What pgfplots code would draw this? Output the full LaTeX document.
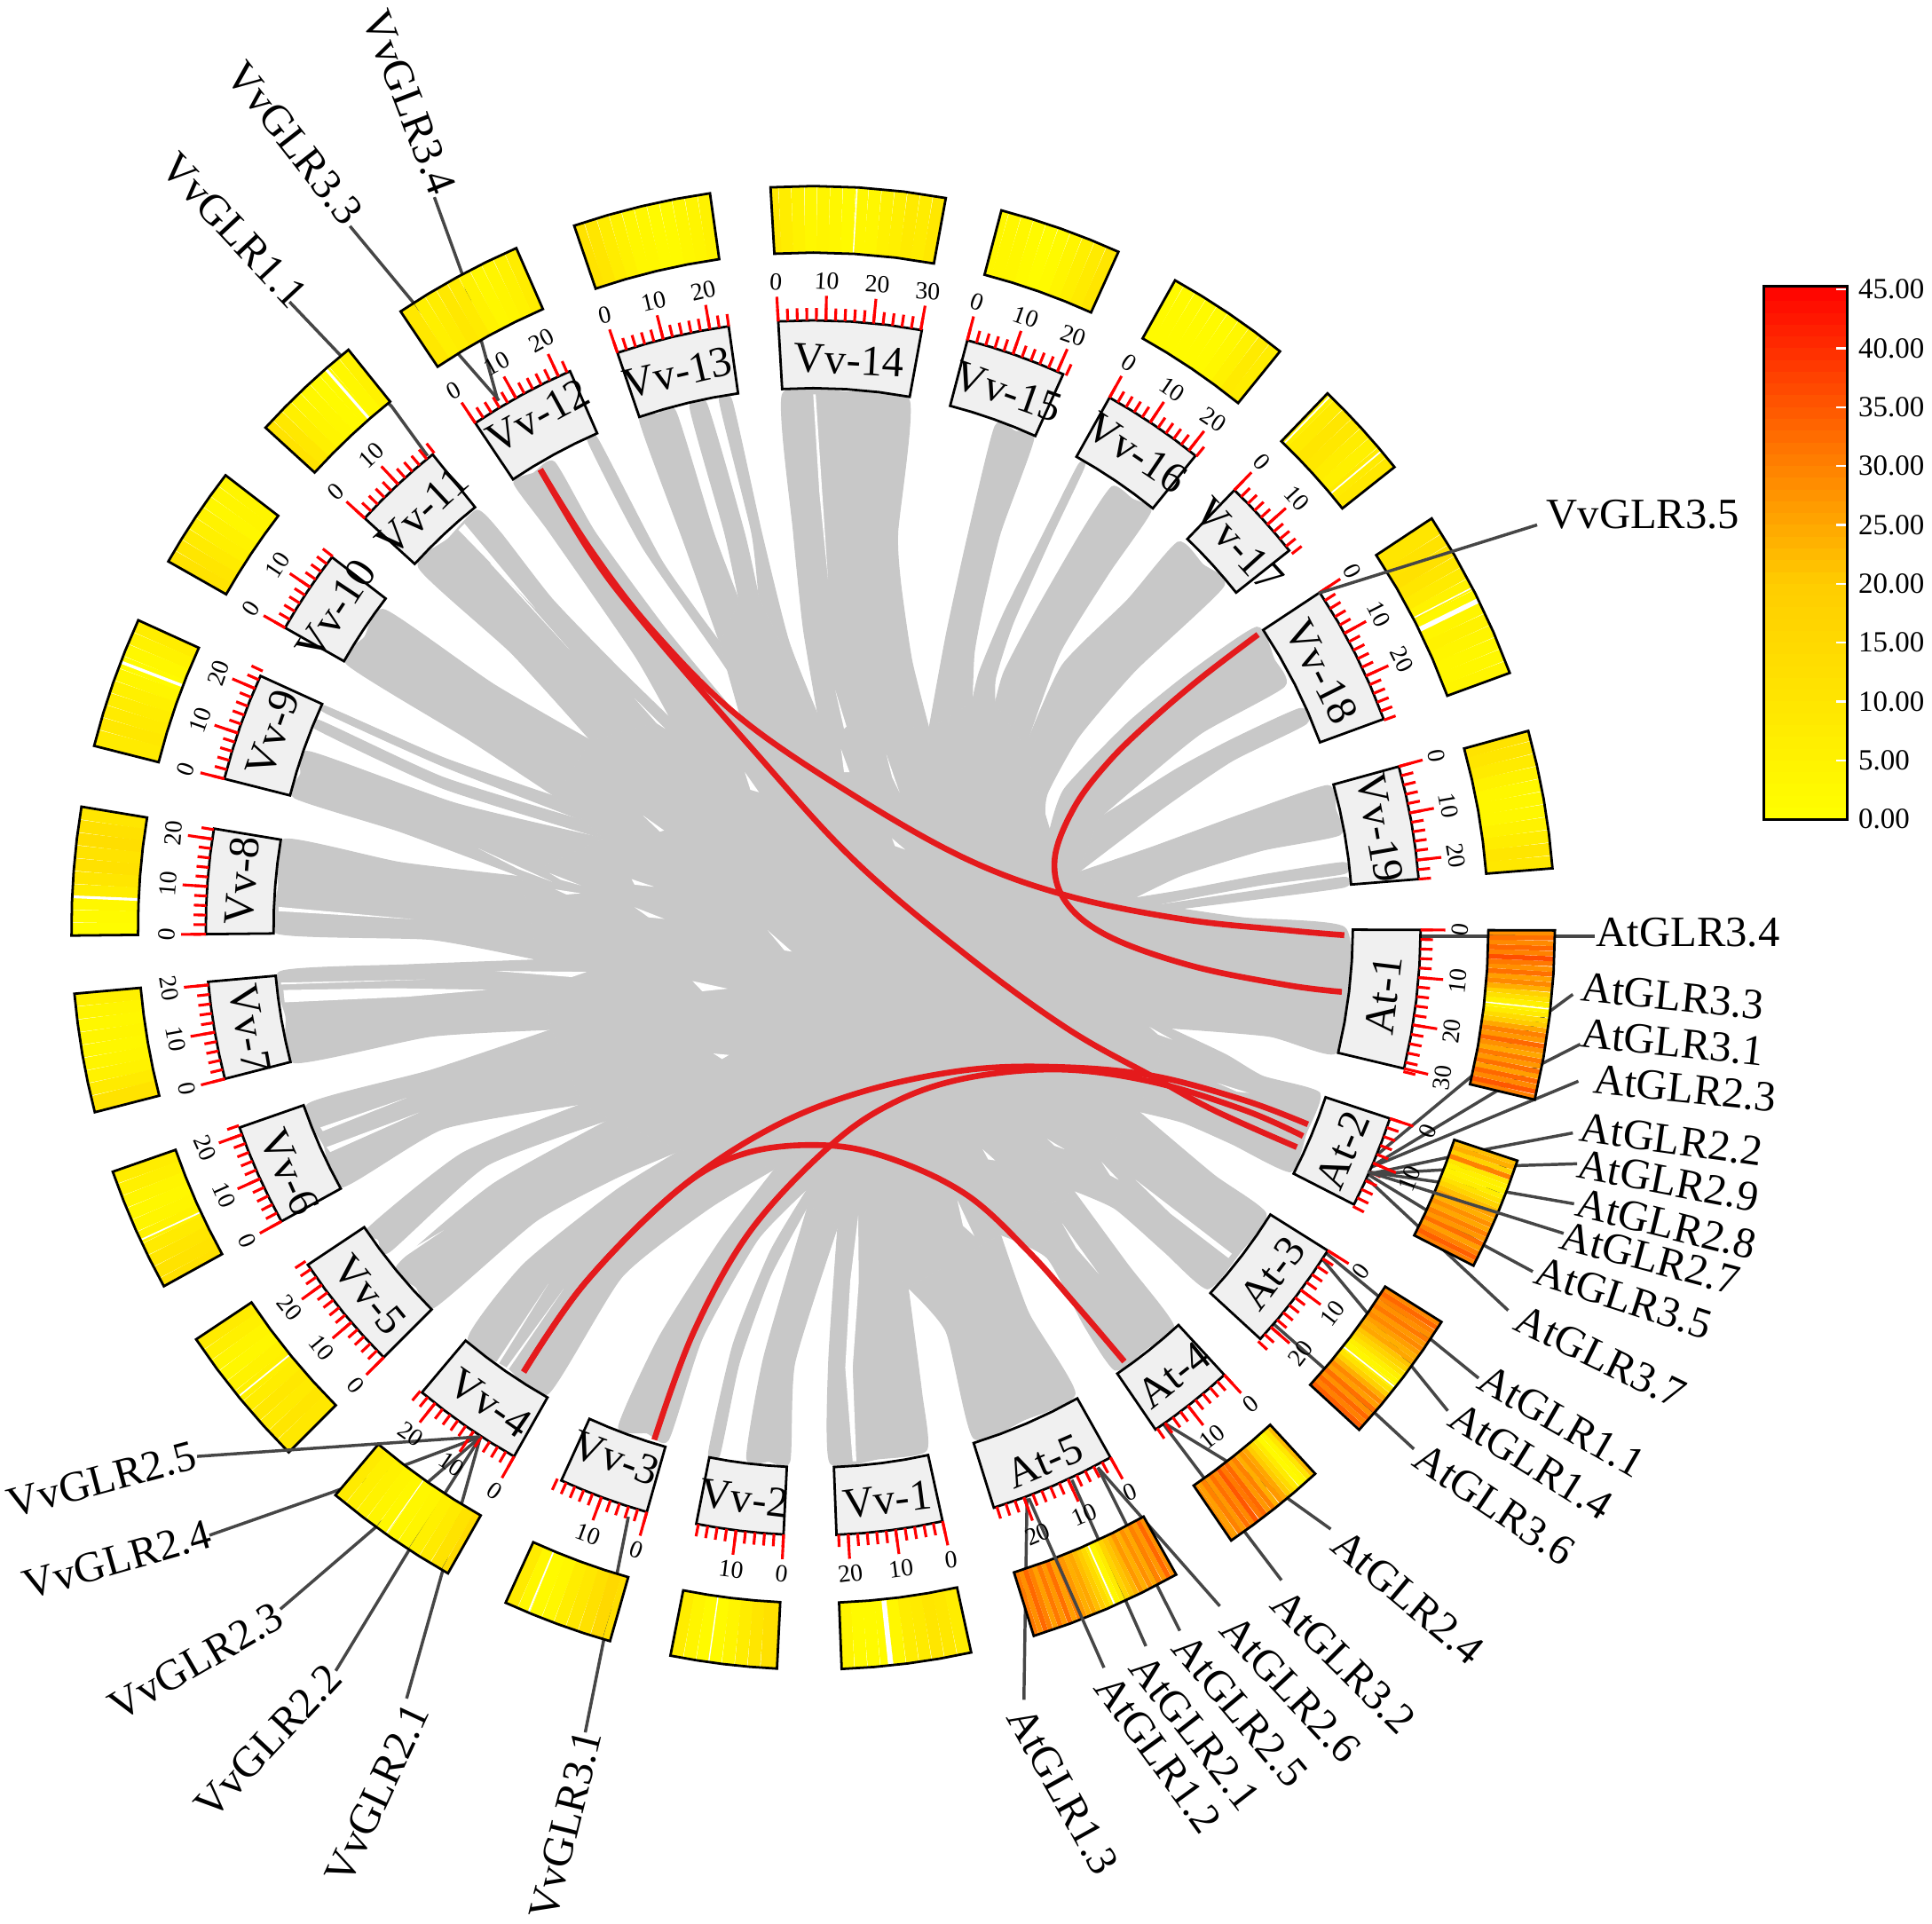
\documentclass[border=0pt]{standalone}
\usepackage{fontspec}
\setmainfont{Liberation Serif}
\usepackage{pgfplots}
\pgfplotsset{compat=1.18}
\definecolor{ribbon}{RGB}{200,200,200}
\definecolor{boxgray}{RGB}{240,240,240}
\definecolor{leader}{RGB}{70,70,70}
\definecolor{linkred}{RGB}{228,26,28}
\pgfplotsset{
  colormap={hm}{rgb255(0pt)=(255,255,0); rgb255(20pt)=(255,204,0); rgb255(30pt)=(255,128,0); rgb255(45pt)=(255,0,0)},
  page/.style={hide axis,scale only axis,width=627.2pt,height=624.48pt,clip=false},
  pix/.style={page,xmin=0,xmax=1568,ymin=0,ymax=1561.2,y dir=reverse},
  cen/.style={page,xmin=-660,xmax=908,ymin=-808.2,ymax=753,colormap name=hm,point meta min=0,point meta max=45.25},
}
% ribbons, white gaps, links and leader lines are in picture coordinates
\newcommand\rb[1]{\addplot[fill=ribbon,draw=ribbon,line width=.3pt,smooth,tension=0.35] coordinates {#1} --cycle;}
\newcommand\hole[1]{\addplot[fill=white,draw=none] coordinates {#1} --cycle;}
\newcommand\link[1]{\addplot[linkred,line width=1.9pt,smooth,tension=0.6] coordinates {#1};}
\newcommand\ld[1]{\addplot[leader,line width=1pt] coordinates {#1};}
% heat track, sector boxes and ticks are angle,radius around the circle centre
\newcommand\heat[1]{\addplot[mesh,shader=flat corner,line width=21.6pt,line cap=butt,point meta=explicit,data cs=polar] coordinates {#1};}
\newcommand\stripe[2]{\addplot[white,line width=#2,data cs=polar] coordinates {(#1,549)(#1,601)};}
\newcommand\sect[5]{%
  \addplot[fill=boxgray,draw=black,line width=.8pt,data cs=polar] coordinates {(#1,438)(#2,438)(#3,438)(#4,438)(#5,438)(#5,493)(#4,493)(#3,493)(#2,493)(#1,493)} --cycle;
  \addplot[draw=black,line width=.8pt,data cs=polar] coordinates {(#1,548)(#2,548)(#3,548)(#4,548)(#5,548)(#5,602)(#4,602)(#3,602)(#2,602)(#1,602)} --cycle;}
\newcommand\tk[2]{%
  \pgfplotsinvokeforeach{#1}{\addplot[red,line width=.9pt,data cs=polar] coordinates {(##1,493)(##1,503)};}
  \pgfplotsinvokeforeach{#2}{\addplot[red,line width=.9pt,data cs=polar] coordinates {(##1,493)(##1,513)};}}
% text
\newcommand\lb[4]{\node[inner sep=0,font=\fontsize{14}{16}\selectfont,rotate=#3] at (axis cs:#1,#2) {#4};}
\newcommand\tl[3]{\node[inner sep=0,font=\fontsize{8}{9}\selectfont,rotate=#2] at ([shift={(#1:210pt)}]axis cs:660,753) {#3};}
\begin{document}
\begin{tikzpicture}
\useasboundingbox (0,0) rectangle (627.2pt,624.48pt);
\begin{axis}[pix]
% central mass
\addplot[fill=ribbon,draw=none] coordinates {(664,581)(754,591.5)(789,570)(807.6,571)(832,606.5)(852,674)(892,664)(875,708)(920,729)(958,737.5)(949,834.3)(924,902)(871,966)(812,1002)(737,1045)(680,995)(656,978)(656,964)(629,948.5)(552.5,933.5)(495,908.5)(472.5,896)(448,835.5)(437,779)(423,711.5)(489.6,680.4)(473.6,666)(450.6,646.5)(479.5,601)(544,583)(602,585)(584,521)(600,488)(616,486)} --cycle;
% ribbons clockwise from the top
\rb{(664,581)(652,510)(644,432)(635,320)(686,318)(738,325)(728.6,432)(731,474)(740,536)(754,591.5)}
\rb{(754,591.5)(768,515)(785,437)(807.5,346)(824,350)(839,356)(812,432)(798,490)(790.6,530)(789,570)}
\rb{(789,570)(795,545)(815,497)(847.5,432)(875,377.5)(880,379)(855,432)(822.5,505)(808,550)(807.6,571)}
\rb{(807.6,571)(815,545)(840,497)(877.5,432)(902.5,395)(919,405)(934,415)(900,465)(860,530)(832,606.5)}
\rb{(832,606.5)(862,540)(915,487)(956,440)(976,458)(993,476)(921.6,544)(875.7,597.7)(850.4,643)(848,662)(852,674)}
\rb{(852,674)(864,640)(916,586)(965,546)(1020,509)(1034,535)(1042.5,557)(975,595)(920,640)(892,664)}
\rb{(892,664)(954,624.6)(1000,600)(1055,575)(1060,587.5)(1000,617.5)(945,655)(875,708)}
\rb{(875,708)(935,687.5)(1010,660)(1077.5,637.5)(1084,657)(1087.5,677.5)(1025,690)(960,710)(920,729)}
\rb{(920,729)(960,722.5)(1025,710)(1090,700)(1091,709)(1025,718)(960,730)(930,736)}
\rb{(930,736)(1025,722)(1091,712)(1091,720)(1025,729)(958,737.5)}
\rb{(958,737.5)(1010,745)(1091,752.5)(1095,805)(1083.5,855)(1030,841)(949,834.3)}
\rb{(949,834.3)(995,856)(1025,873.5)(1071,887)(1060,920)(1047.5,951)(1000,928.5)(960,911)(924,902)}
\rb{(924,902)(985,953.5)(1027.5,985)(1006,1017)(980,1046)(945,1016)(905,981)(871,966)}
\rb{(871,966)(915,1026)(952.5,1076)(930,1095)(905,1112)(880,1076)(850,1021)(812,1002)}
\rb{(812,1002)(835,1066)(872.5,1131)(832,1152)(790,1167)(768,1081)(737,1045)}
\rb{(737,1045)(748,1130)(752,1177)(713,1184)(673.5,1187)(672.5,1106)(680,995)}
\rb{(680,995)(645,1106)(641,1186)(624,1186)(606,1183.5)(620,1101)(656,978)}
\rb{(656,978)(625,1036)(600,1106)(584,1181)(575,1179.5)(595,1091)(625,1016)(656,964)}
\rb{(656,964)(615,1006)(570,1086)(542.5,1168.5)(525,1163)(502,1158)(535,1085)(585,1006)(629,948.5)}
\rb{(629,948.5)(575,981)(505,1036)(445,1131)(412,1110)(380,1086)(425,1026)(500,966)(552.5,933.5)}
\rb{(552.5,933.5)(500,956)(435,991)(352.5,1061)(338,1045)(322.5,1027)(400,961)(495,908.5)}
\rb{(495,908.5)(395,946)(316,1016)(307,1006)(298.5,997)(375,936)(472.5,896)}
\rb{(472.5,896)(360,916)(277.5,963.5)(263,930)(250,896)(350,868.5)(448,835.5)}
\rb{(448,835.5)(350,841)(239,862.5)(232,825)(227.5,788.5)(330,783)(437,779)}
\rb{(437,779)(350,762.5)(225,757.5)(226,720)(231,681)(325,700)(423,711.5)}
\rb{(423,711.5)(325,675)(239,647.5)(244,628)(251,610)(370,652)(489.6,680.4)}
\rb{(489.6,680.4)(360,640)(257,592)(260,585)(360,631)(473.6,666)}
\rb{(473.6,666)(360,622)(265,579)(264,573)(360,615)(450.6,646.5)}
\rb{(450.6,646.5)(380,600)(281.5,539)(296,517)(312.5,495)(400,555)(479.5,601)}
\rb{(479.5,601)(415,530)(340,461)(364,437)(387,414)(406,432)(448,486)(500,540)(544,583)}
\rb{(544,583)(515,531.6)(446,432)(417,392)(433,384)(450,375)(483,432)(540,510)(602,585)}
\rb{(602,585)(593,548)(522,445)(477.5,359)(485,356)(537,455)(584,521)}
\rb{(584,521)(555,440)(519,341)(534,336)(548.5,334)(579,432)(600,488)}
\rb{(600,488)(588,432)(560,331)(573.5,327.5)(604,432)(616,486)}
\rb{(616,486)(610,432)(584,326)(594,325)(618,432)(640,520)(664,581)}
% gaps inside the ribbons
\hole{(604.5,626.7)(616,643)(609,641)}
\hole{(521.8,661.8)(539,674)(535.6,675)}
\hole{(724,680.4)(734.6,689.5)(726.3,686.6)}
\hole{(623,755)(642.7,772.3)(636.7,771.4)}
\hole{(562,796.2)(590.7,802.4)(570,804.5)}
\hole{(515,736.3)(539.3,745.8)(526.4,744.5)}
\hole{(512.6,713.5)(531,719.7)(515,718)}
\hole{(450.6,721.8)(471.3,725)(459.8,726)}
\hole{(446,708.6)(471.3,718.5)(455,714)}
\hole{(388.5,688.7)(448,715.6)(420.7,705.3)}
\hole{(579,855)(591.7,856.2)(586,859.5)}
\hole{(988,879)(1013.5,887)(1004,886)}
\hole{(933,833.5)(951.5,843.8)(940,839.7)}
\hole{(682.6,608)(689.5,626.7)(685,626.7)}
\hole{(719.4,612.2)(730,643)(724,630.8)}
\hole{(777,974)(790.7,1003)(781.5,994.8)}
\hole{(797.5,932.7)(807.7,941.8)(802,941)}
\hole{(850,924.4)(864,932.7)(856,930)}
\hole{(894,943)(907.8,957.5)(901,954)}
\hole{(862,992.7)(891.8,1034)(873.4,1013)}
\hole{(515,566.7)(540,591.5)(533,587)}
\hole{(678,560.5)(687,589.5)(685,591.5)}
\hole{(696.5,986.5)(690,1040)(686,1110)(692,1186)(695,1186)(692,1110)(697,1040)}
\hole{(402.5,1106)(445,1042)(404,1108)}
\hole{(411,1110)(457.5,1046)(413,1111)}
\hole{(318,1023)(360,998.5)(321,1025)}
\hole{(921.6,957.5)(999.8,1017.5)(997,1021)(950,985)}
\hole{(226,736)(335,746)(226,739.5)}
\hole{(228,797.5)(345,795)(228,799)}
\hole{(230,803.5)(320,802)(395.4,803.3)(330,809)(231,813.5)}
\hole{(402,788)(476,788.8)(464,793)}
\hole{(260,915)(330,891)(262,918)}
\hole{(265,931)(340,903)(268,935)}
\hole{(372,430)(377,425)(434.5,494)}
\hole{(397.7,457)(462,527)(400,457)}
\hole{(660,320)(665,400)(672,470)(662,320)}
% syntenic links
\link{(438.5,381)(480,447)(530,512)(600,582)(692,645)(784,697)(866.5,727)(960,746)(1044.7,755)(1091,759)}
\link{(438.5,381)(480,450)(522,505)(609,606)(692,697)(784,775)(866.5,835)(935,873.5)(985,901)(1052.5,931)}
\link{(1021,515)(975,550)(935,584)(900,618)(872,655)(856,697)(865,732)(900,760)(967.6,784)(1044.7,799.5)(1089,805)}
\link{(425,1113.5)(475,1041)(550,966)(625,916)(700,886)(784,868.5)(860,866)(935,873)(1010,893)(1061.5,912.5)}
\link{(531,1168.5)(563,1081)(609,999)(673,930.6)(725,895)(784,875)(860,868)(935,878)(1010,901)(1057.5,922)}
\link{(425,1113.5)(475,1041)(550,966)(605,936)(670,929.5)(725,941)(785,970)(835,1016)(875,1061)(912.5,1105)}
% leader lines
\ld{(352.5,160)(375,222)(391,278)(404,325)}
\ld{(284,183.5)(335,245)(405,325)}
\ld{(235,245)(275,287)(318,330)(347,370)}
\ld{(170,1246)(270,1211)(390,1166)}
\ld{(227.5,1306)(302,1242)(390,1166)}
\ld{(272.5,1356)(332,1258)(390,1166)}
\ld{(330,1378.5)(390,1166)}
\ld{(475,1406)(510,1231)}
\ld{(1152.5,760)(1294,760)}
\ld{(1276.5,807)(1257.5,821)(1110,943.5)}
\ld{(1282.5,847.5)(1252,863)(1110,948.5)}
\ld{(1281,877.5)(1110,948.5)}
\ld{(1276.5,919.5)(1210,932)(1110,953)}
\ld{(1280,944.5)(1230,946)(1110,953)}
\ld{(1277.5,977)(1220,967)(1110,951)}
\ld{(1244,1032)(1205,1011)(1110,953)}
\ld{(1224,1063.5)(1110,957)}
\ld{(1200,1118.5)(1160,1086)(1075,1016)}
\ld{(1175,1145)(1145,1108)(1072.5,1021)}
\ld{(1147.5,1176)(1115,1146)(1032.5,1073.5)}
\ld{(1080,1241)(1045,1216)(942.5,1153.5)}
\ld{(1040,1282.5)(1010,1243)(942.5,1153.5)}
\ld{(990,1303.5)(891,1191)}
\ld{(957.5,1323.5)(891,1191)}
\ld{(930,1336)(870,1201)}
\ld{(831,1379.5)(833.5,1216)}
\end{axis}
\begin{axis}[cen]
% heat track, values from the colour scale
\heat{(79.7,575)[9](80.7,575)[7](81.7,575)[8](82.7,575)[6](83.7,575)[5](84.7,575)[3](85.7,575)[3](86.7,575)[2](87.7,575)[3](88.7,575)[4](89.7,575)[3](90.7,575)[5](91.7,575)[7](92.7,575)[9](93.3,575)[8]}
\heat{(98,575)[5](99,575)[4](100,575)[3](101,575)[2](102,575)[2](103,575)[3](104,575)[3](105,575)[5](106,575)[7](107,575)[10](108,575)[11](108.8,575)[10]}
\heat{(113.6,575)[7](114.6,575)[5](115.6,575)[4](116.6,575)[3](117.6,575)[5](118.6,575)[8](119.6,575)[9](120.6,575)[7](121.6,575)[6](122.6,575)[9](123.8,575)[10]}
\heat{(128.8,575)[5](129.8,575)[3](130.8,575)[2](131.8,575)[2](132.8,575)[3](133.8,575)[4](134.8,575)[6](135.8,575)[9](136.8,575)[11](137.6,575)[10]}
\heat{(142.4,575)[4](143.4,575)[4](144.4,575)[3](145.4,575)[5](146.4,575)[6](147.4,575)[8](148.4,575)[10](149.4,575)[11](150.4,575)[9]}
\heat{(155.5,575)[7](156.5,575)[5](157.5,575)[3](158.5,575)[2](159.5,575)[4](160.5,575)[6](161.5,575)[7](162.5,575)[8](163.5,575)[9](164.5,575)[8](165.8,575)[9]}
\heat{(170.6,575)[10](171.6,575)[12](172.6,575)[13](173.6,575)[11](174.6,575)[12](175.6,575)[10](176.6,575)[7](177.6,575)[3](178.6,575)[2](179.6,575)[1](180.6,575)[3]}
\heat{(185.1,575)[6](186.1,575)[4](187.1,575)[3](188.1,575)[4](189.1,575)[3](190.1,575)[4](191.1,575)[5](192.1,575)[8](193.1,575)[11](194.4,575)[11]}
\heat{(199.2,575)[7](200.2,575)[6](201.2,575)[4](202.2,575)[3](203.2,575)[4](204.2,575)[5](205.2,575)[8](206.2,575)[10](207.2,575)[11](208.2,575)[12](208.9,575)[13]}
\heat{(213.7,575)[8](214.7,575)[6](215.7,575)[4](216.7,575)[3](217.7,575)[5](218.7,575)[6](219.7,575)[7](220.7,575)[9](221.7,575)[8](222.7,575)[10](223.7,575)[9](225,575)[11]}
\heat{(229.9,575)[8](230.9,575)[6](231.9,575)[5](232.9,575)[4](233.9,575)[3](234.9,575)[3](235.9,575)[4](236.9,575)[6](237.9,575)[8](238.9,575)[11](239.9,575)[14](240.5,575)[13]}
\heat{(245.5,575)[8](246.5,575)[3](247.5,575)[2](248.5,575)[3](249.5,575)[7](250.5,575)[9](251.5,575)[12](252.5,575)[15](253.5,575)[13](254.1,575)[10]}
\heat{(258.9,575)[7](259.9,575)[4](260.9,575)[2](261.9,575)[2](262.9,575)[4](263.9,575)[7](264.9,575)[10](265.9,575)[12](267.2,575)[9]}
\heat{(272.2,575)[4](273.2,575)[2](274.2,575)[2](275.2,575)[2](276.2,575)[3](277.2,575)[7](278.2,575)[8](279.2,575)[10](280.2,575)[9](281.2,575)[7](282.3,575)[5]}
\heat{(4.6,575)[9](5.6,575)[10](6.6,575)[7](7.6,575)[5](8.6,575)[3](9.6,575)[3](10.6,575)[3](11.6,575)[5](12.6,575)[8](13.6,575)[10](14.6,575)[11](15.4,575)[12]}
\heat{(20.1,575)[4](21.1,575)[3](22.1,575)[3](23.1,575)[4](24.1,575)[5](25.1,575)[4](26.1,575)[3](27.1,575)[5](28.1,575)[8](29.1,575)[10](30.1,575)[12](31.1,575)[11](32.1,575)[10](33.5,575)[12]}
\heat{(38.4,575)[9](39.4,575)[8](40.4,575)[6](41.4,575)[7](42.4,575)[9](43.4,575)[10](44.4,575)[8](45.4,575)[6](46.1,575)[5]}
\heat{(51,575)[7](52,575)[8](53,575)[5](54,575)[3](55,575)[2](56,575)[2](57,575)[2](58,575)[2](59,575)[2](60,575)[2](60.8,575)[3]}
\heat{(65.7,575)[10](66.7,575)[8](67.7,575)[6](68.7,575)[4](69.7,575)[2](70.7,575)[1](71.7,575)[2](72.7,575)[3](73.7,575)[3](74.7,575)[3](75.3,575)[4]}
\heat{(346.6,575)[30](347,575)[35](347.4,575)[29](347.8,575)[33](348.2,575)[26](348.6,575)[32](349,575)[27](349.4,575)[31](349.8,575)[25](350.2,575)[28](350.6,575)[33](351,575)[27](351.4,575)[30](351.8,575)[25](352.2,575)[20](352.6,575)[14](353,575)[8](353.4,575)[4](353.8,575)[6](354.2,575)[12](354.6,575)[18](355,575)[24](355.4,575)[29](355.8,575)[26](356.2,575)[32](356.6,575)[28](357,575)[31](357.4,575)[36](357.8,575)[30](358.2,575)[33](358.6,575)[29](359,575)[32](359.4,575)[28](359.8,575)[30]}
\heat{(332.9,575)[30](333.3,575)[34](333.7,575)[30](334.1,575)[26](334.5,575)[32](334.9,575)[27](335.3,575)[30](335.7,575)[25](336.1,575)[28](336.5,575)[24](336.9,575)[26](337.3,575)[22](337.7,575)[17](338.1,575)[12](338.5,575)[7](338.9,575)[5](339.3,575)[6](339.7,575)[10](340.1,575)[30](340.5,575)[18](340.9,575)[24](341.3,575)[22](341.7,575)[26]}
\heat{(317.5,575)[34](317.9,575)[30](318.3,575)[33](318.7,575)[28](319.1,575)[32](319.5,575)[26](319.9,575)[29](320.3,575)[24](320.7,575)[18](321.1,575)[11](321.5,575)[5](321.9,575)[3](322.3,575)[6](322.7,575)[12](323.1,575)[17](323.5,575)[21](323.9,575)[25](324.3,575)[24](324.7,575)[26](325.1,575)[29](325.5,575)[27](325.9,575)[31](326.3,575)[28](326.7,575)[30](327.1,575)[33](327.5,575)[29](327.9,575)[32]}
\heat{(304.3,575)[28](304.6,575)[26](305,575)[30](305.4,575)[27](305.8,575)[32](306.2,575)[29](306.6,575)[35](307,575)[31](307.4,575)[33](307.8,575)[27](308.2,575)[30](308.6,575)[24](309,575)[27](309.4,575)[25](309.8,575)[20](310.2,575)[14](310.6,575)[8](311,575)[2](311.4,575)[3](311.8,575)[10](312.2,575)[22](312.6,575)[28]}
\heat{(287.3,575)[31](287.7,575)[28](288.1,575)[33](288.5,575)[30](288.9,575)[26](289.3,575)[31](289.7,575)[27](290.1,575)[32](290.5,575)[26](290.9,575)[30](291.3,575)[27](291.7,575)[24](292.1,575)[25](292.5,575)[22](292.9,575)[20](293.3,575)[14](293.7,575)[8](294.1,575)[3](294.5,575)[8](294.9,575)[17](295.3,575)[21](295.7,575)[23](296.1,575)[27](296.5,575)[24](296.9,575)[28](297.3,575)[25](297.7,575)[30](298.1,575)[27](298.5,575)[33](298.9,575)[28](299.3,575)[32]}
% white stripes of the track
\stripe{86.6}{.4pt}\stripe{131.1}{.9pt}\stripe{159}{1pt}\stripe{177.6}{.9pt}\stripe{204.9}{.5pt}\stripe{219.2}{.5pt}\stripe{234.8}{.3pt}\stripe{247.4}{.5pt}\stripe{261.9}{.4pt}\stripe{276}{1.6pt}\stripe{294}{.5pt}\stripe{321.7}{.5pt}\stripe{353.7}{.4pt}\stripe{26.2}{1.6pt}\stripe{27.3}{.4pt}\stripe{40}{.5pt}\stripe{45.8}{.5pt}
% sector boxes and track outlines
\sect{79.7}{83}{86.5}{90}{93.3}
\sect{98}{100.7}{103.4}{106.1}{108.8}
\sect{113.6}{116.2}{118.7}{121.3}{123.8}
\sect{128.8}{131}{133.2}{135.4}{137.6}
\sect{142.4}{144.4}{146.4}{148.4}{150.4}
\sect{155.5}{158.1}{160.7}{163.2}{165.8}
\sect{170.6}{173.1}{175.6}{178.1}{180.6}
\sect{185.1}{187.4}{189.8}{192.1}{194.4}
\sect{199.2}{201.6}{204}{206.5}{208.9}
\sect{213.7}{216.5}{219.4}{222.2}{225}
\sect{229.9}{232.6}{235.2}{237.9}{240.5}
\sect{245.5}{247.7}{249.8}{252}{254.1}
\sect{258.9}{261}{263}{265.1}{267.2}
\sect{272.2}{274.7}{277.3}{279.8}{282.3}
\sect{287.3}{290.3}{293.3}{296.3}{299.3}
\sect{304.3}{306.4}{308.5}{310.5}{312.6}
\sect{317.4}{320}{322.7}{325.3}{327.9}
\sect{332.9}{335.1}{337.3}{339.5}{341.7}
\sect{346.6}{349.9}{353.2}{356.5}{359.8}
\sect{4.6}{7.3}{10}{12.7}{15.4}
\sect{20.1}{23.5}{26.8}{30.2}{33.5}
\sect{38.4}{40.3}{42.3}{44.2}{46.1}
\sect{51}{53.5}{55.9}{58.4}{60.8}
\sect{65.7}{68.1}{70.5}{72.9}{75.3}
% ticks every 2 Mb, long ones every 10 Mb
\tk{93.3,92.4,...,79.7}{93.3,88.8,84.3,79.8}
\tk{108.8,107.9,...,97.9}{108.8,104.3,99.8}
\tk{123.8,122.9,...,113.5}{123.8,119.3,114.8}
\tk{137.6,136.7,...,128.7}{137.6,133.1}
\tk{150.4,149.5,...,142.3}{150.4,145.9}
\tk{165.8,164.9,...,155.4}{165.8,161.3,156.8}
\tk{180.6,179.7,...,170.5}{180.6,176.1,171.6}
\tk{194.4,193.5,...,185}{194.4,189.9,185.4}
\tk{208.9,208,...,199.1}{208.9,204.4,199.9}
\tk{225,224.1,...,213.6}{225,220.5,216}
\tk{240.5,239.6,...,229.8}{240.5,236,231.5}
\tk{254.1,253.2,...,245.4}{254.1,249.6}
\tk{267.2,266.3,...,258.8}{267.2,262.7}
\tk{282.3,281.4,...,272.1}{282.3,277.8,273.3}
\tk{299.3,298.4,...,287.2}{299.3,294.8,290.3}
\tk{312.6,311.7,...,304.2}{312.6,308.1}
\tk{327.9,327,...,317.3}{327.9,323.4,318.9}
\tk{341.7,340.8,...,332.8}{341.7,337.2}
\tk{359.8,358.9,...,346.5}{359.8,355.3,350.8,346.6}
\tk{15.4,14.5,...,4.5}{15.4,10.9,6.4}
\tk{33.5,32.6,...,20}{33.5,29,24.5}
\tk{46.1,45.2,...,38.3}{46.1,41.6}
\tk{60.8,59.9,...,50.9}{60.8,56.3,51.8}
\tk{75.3,74.4,...,65.6}{75.3,70.8,66.3}
\end{axis}
\begin{axis}[pix]
% leader lines that run over the track
\ld{(160,1182)(390,1166)}
\ld{(1269,1001)(1110,951)}
\ld{(896,1353.5)(835,1216)}
\ld{(1247.5,426)(1070,481.5)}
% sector names
\lb{689}{292.5}{-3}{Vv-14}
\lb{550}{302.5}{13}{Vv-13}
\lb{436.5}{337.5}{28.7}{Vv-12}
\lb{342.5}{415}{43}{Vv-11}
\lb{272.5}{495}{56.4}{Vv-10}
\lb{221.5}{595}{70.6}{Vv-9}
\lb{196.5}{715}{85.6}{Vv-8}
\lb{202.5}{835}{-80}{Vv-7}
\lb{235}{951}{-66}{Vv-6}
\lb{300}{1051}{-50.6}{Vv-5}
\lb{397.5}{1138.5}{-34.8}{Vv-4}
\lb{500}{1183.5}{-20.2}{Vv-3}
\lb{604}{1216}{-7}{Vv-2}
\lb{720}{1217}{7.25}{Vv-1}
\lb{847.5}{1186}{23.3}{At-5}
\lb{952.5}{1116}{38.5}{At-4}
\lb{1032.5}{1033.5}{52.6}{At-3}
\lb{1090}{933.5}{67.3}{At-2}
\lb{1123}{808}{83.2}{At-1}
\lb{1120}{672}{-80}{Vv-19}
\lb{1072.5}{545}{-63.2}{Vv-18}
\lb{1005}{442.5}{-47.8}{Vv-17}
\lb{922.5}{367.5}{-34}{Vv-16}
\lb{818}{318}{-19.5}{Vv-15}
% tick numbers
\tl{93.3}{-3}{0}\tl{88.8}{-3}{10}\tl{84.3}{-3}{20}\tl{79.8}{-3}{30}
\tl{108.8}{13}{0}\tl{104.3}{13}{10}\tl{99.8}{13}{20}
\tl{123.8}{28.7}{0}\tl{119.3}{28.7}{10}\tl{114.8}{28.7}{20}
\tl{137.6}{43}{0}\tl{133.1}{43}{10}
\tl{150.4}{56.4}{0}\tl{145.9}{56.4}{10}
\tl{165.8}{70.6}{0}\tl{161.3}{70.6}{10}\tl{156.8}{70.6}{20}
\tl{180.6}{85.6}{0}\tl{176.1}{85.6}{10}\tl{171.6}{85.6}{20}
\tl{194.4}{-80}{0}\tl{189.9}{-80}{10}\tl{185.4}{-80}{20}
\tl{208.9}{-66}{0}\tl{204.4}{-66}{10}\tl{199.9}{-66}{20}
\tl{225}{-50.6}{0}\tl{220.5}{-50.6}{10}\tl{216}{-50.6}{20}
\tl{240.5}{-34.8}{0}\tl{236}{-34.8}{10}\tl{231.5}{-34.8}{20}
\tl{254.1}{-20.2}{0}\tl{249.6}{-20.2}{10}
\tl{267.2}{-7}{0}\tl{262.7}{-7}{10}
\tl{282.3}{7.25}{0}\tl{277.8}{7.25}{10}\tl{273.3}{7.25}{20}
\tl{299.3}{23.3}{0}\tl{294.8}{23.3}{10}\tl{290.3}{23.3}{20}
\tl{312.6}{38.5}{0}\tl{308.1}{38.5}{10}
\tl{327.9}{52.6}{0}\tl{323.4}{52.6}{10}\tl{318.9}{52.6}{20}
\tl{341.7}{67.3}{0}\tl{337.2}{67.3}{10}
\tl{359.8}{83.2}{0}\tl{355.3}{83.2}{10}\tl{350.8}{83.2}{20}\tl{346.6}{83.2}{30}
\tl{15.4}{-80}{0}\tl{10.9}{-80}{10}\tl{6.4}{-80}{20}
\tl{33.5}{-63.2}{0}\tl{29}{-63.2}{10}\tl{24.5}{-63.2}{20}
\tl{46.1}{-47.8}{0}\tl{41.6}{-47.8}{10}
\tl{60.8}{-34}{0}\tl{56.3}{-34}{10}\tl{51.8}{-34}{20}
\tl{75.3}{-19.5}{0}\tl{70.8}{-19.5}{10}\tl{66.3}{-19.5}{20}
% gene names
\lb{332}{83}{-69}{VvGLR3.4}
\lb{239}{116}{-52}{VvGLR3.3}
\lb{190}{187}{-47}{VvGLR1.1}
\lb{1333.5}{417.5}{0}{VvGLR3.5}
\lb{82.5}{1201}{15}{VvGLR2.5}
\lb{95}{1266}{16}{VvGLR2.4}
\lb{159}{1348.5}{30}{VvGLR2.3}
\lb{217.5}{1413.5}{47}{VvGLR2.2}
\lb{306}{1456}{65}{VvGLR2.1}
\lb{459}{1481}{76}{VvGLR3.1}
\lb{1370}{756.5}{0}{AtGLR3.4}
\lb{1357.5}{808.5}{-6}{AtGLR3.3}
\lb{1357.5}{846}{-6}{AtGLR3.1}
\lb{1367.5}{883.5}{-6}{AtGLR2.3}
\lb{1356.5}{925}{-8}{AtGLR2.2}
\lb{1354}{958.5}{-11}{AtGLR2.9}
\lb{1352.5}{993.5}{-14}{AtGLR2.8}
\lb{1339}{1021}{-15}{AtGLR2.7}
\lb{1317.5}{1053.5}{-18}{AtGLR3.5}
\lb{1299}{1101}{-26}{AtGLR3.7}
\lb{1267.5}{1153.5}{-30}{AtGLR1.1}
\lb{1242.5}{1186}{-32}{AtGLR1.4}
\lb{1212.5}{1221}{-34}{AtGLR3.6}
\lb{1142.5}{1296}{-40}{AtGLR2.4}
\lb{1090}{1348.5}{-45}{AtGLR3.2}
\lb{1047.5}{1371}{-47}{AtGLR2.6}
\lb{1006.5}{1388.5}{-50}{AtGLR2.5}
\lb{970}{1406}{-52}{AtGLR2.1}
\lb{940}{1423.5}{-54}{AtGLR1.2}
\lb{862.5}{1453.5}{-61}{AtGLR1.3}
\end{axis}
% colour scale
\begin{axis}[at={(572.6pt,358.5pt)},anchor=south west,scale only axis,width=27.2pt,height=173pt,
  xmin=0,xmax=1,ymin=0,ymax=45.25,colormap name=hm,point meta min=0,point meta max=45.25,
  axis on top,xtick=\empty,ytick={0,5,...,45},ytick pos=right,yticklabel pos=right,tick align=inside,
  major tick length=3.6pt,y tick style={white,line width=.7pt},axis line style={black,line width=.9pt},
  y tick label style={font=\fontsize{9.5}{11}\selectfont},
  yticklabel style={/pgf/number format/.cd,fixed,fixed zerofill,precision=2,assume math mode=true},
  scaled y ticks=false,clip=true]
\addplot[mesh,line width=27.2pt,line cap=butt,point meta=y] coordinates {(0.5,0)(0.5,1)(0.5,2)(0.5,3)(0.5,4)(0.5,5)(0.5,6)(0.5,7)(0.5,8)(0.5,9)(0.5,10)(0.5,11)(0.5,12)(0.5,13)(0.5,14)(0.5,15)(0.5,16)(0.5,17)(0.5,18)(0.5,19)(0.5,20)(0.5,21)(0.5,22)(0.5,23)(0.5,24)(0.5,25)(0.5,26)(0.5,27)(0.5,28)(0.5,29)(0.5,30)(0.5,31)(0.5,32)(0.5,33)(0.5,34)(0.5,35)(0.5,36)(0.5,37)(0.5,38)(0.5,39)(0.5,40)(0.5,41)(0.5,42)(0.5,43)(0.5,44)(0.5,45)(0.5,45.25)};
\end{axis}
\end{tikzpicture}
\end{document}
